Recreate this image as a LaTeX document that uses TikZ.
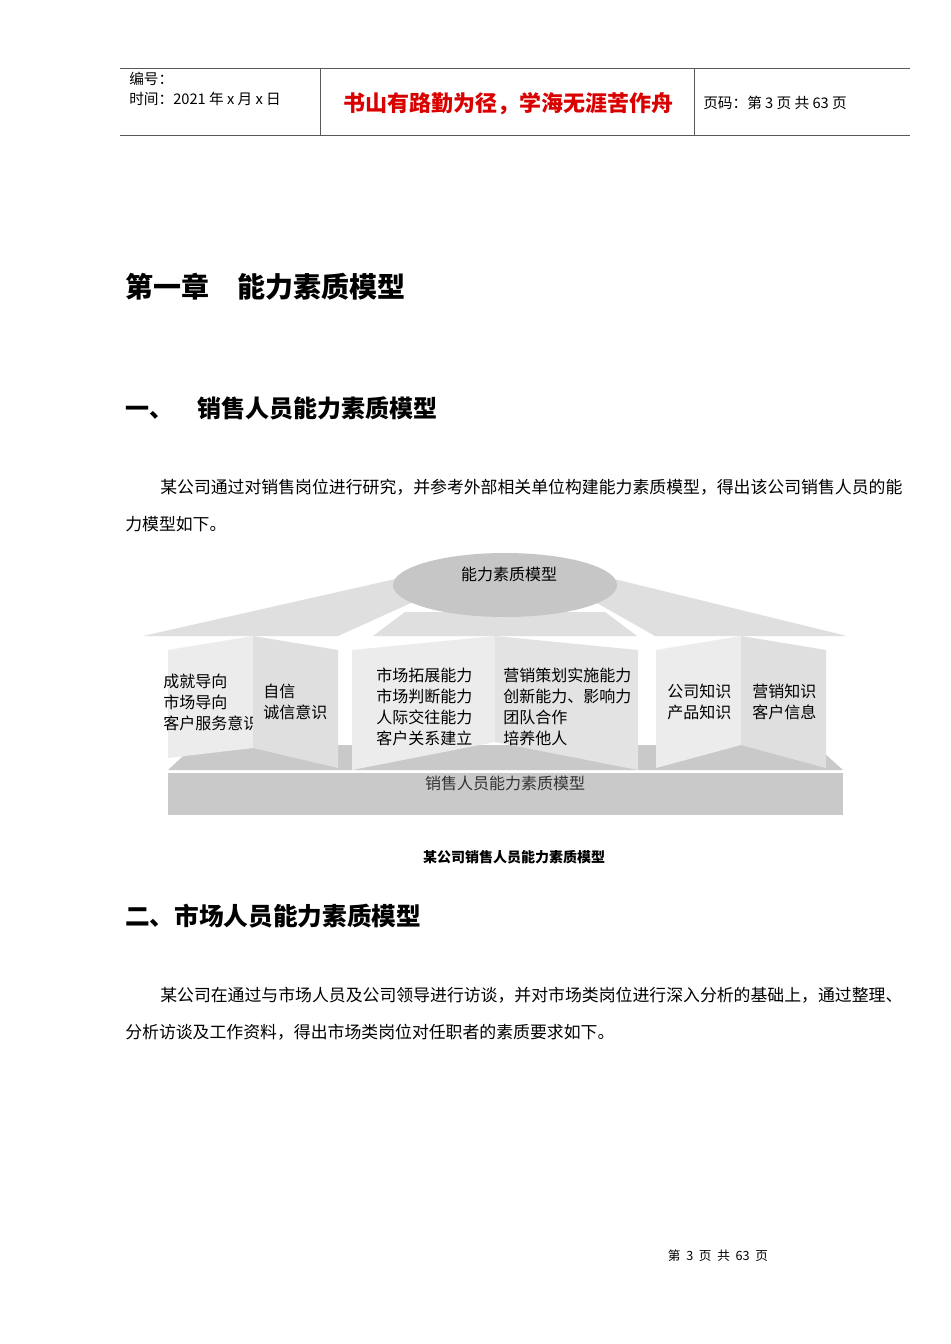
\documentclass[tikz,border=0pt]{standalone}
\usepackage{fontspec}
\usetikzlibrary{shapes.geometric}
\setmainfont{Noto Sans CJK SC}
\begin{document}
\begin{tikzpicture}[x=0.75pt,y=-0.75pt,
  lbl/.style={anchor=west,inner sep=0pt,font=\fontsize{12}{14}\selectfont},
  body/.style={anchor=west,inner sep=0pt,font=\fontsize{12.65}{14}\selectfont},
  hdr/.style={anchor=west,inner sep=0pt,font=\fontsize{11}{13}\selectfont}]
\useasboundingbox[fill=white] (0,0) rectangle (950,1344);
% header
\draw[gray!70!black,line width=0.6pt] (120,68) -- (910,68) (120,135) -- (910,135) (320,68) -- (320,135) (694,68) -- (694,135);
\node[hdr] (h1) at (129,79) {编号：};
\node[hdr] (h2) at (129,99) {时间：2021 年 x 月 x 日};
\node[inner sep=0pt,text=red!85!black,font=\fontsize{16.5}{18}\selectfont\bfseries] (h3) at (508,104) {书山有路勤为径，学海无涯苦作舟};
\node[hdr] (h4) at (703,103) {页码：第 3 页 共 63 页};
% headings
\node[anchor=west,inner sep=0pt,font=\fontsize{21}{24}\selectfont\bfseries] (t1) at (125,287) {第一章\quad 能力素质模型};
\node[anchor=west,inner sep=0pt,font=\fontsize{18}{20}\selectfont\bfseries] (t2) at (125,408) {一、\quad 销售人员能力素质模型};
\node[body] (p1) at (160,487) {某公司通过对销售岗位进行研究，并参考外部相关单位构建能力素质模型，得出该公司销售人员的能};
\node[body] (p2) at (125,524) {力模型如下。};
% diagram
\fill[gray!25] (143,636) -- (400,578) -- (422,598) -- (338,636) -- cycle;
\fill[gray!25] (847,636) -- (610,578) -- (588,598) -- (655,636) -- cycle;
\fill[gray!25] (373,636) -- (405,612) -- (605,612) -- (637,636) -- cycle;
\node[ellipse,fill=gray!45,minimum width=168pt,minimum height=48pt,inner sep=0pt] (el) at (505,585) {};
\node[inner sep=0pt,font=\fontsize{12}{14}\selectfont] (elt) at (509,574) {能力素质模型};
\fill[gray!42] (168,770) -- (195,745) -- (815,745) -- (843,770) -- cycle;
\fill[gray!42] (168,773) rectangle (843,815);
\node[inner sep=0pt,text=gray!40!black,font=\fontsize{12}{14}\selectfont] (bt) at (505,783) {销售人员能力素质模型};
% panels
\fill[gray!15] (168,650) -- (253,636) -- (253,748) -- (168,758) -- cycle;
\node[lbl] (a1) at (163,681) {成就导向};
\node[lbl] (a2) at (163,702) {市场导向};
\node[lbl] (a3) at (163,723) {客户服务意识};
\fill[gray!25] (253,636) -- (338,650) -- (338,768) -- (253,748) -- cycle;
\node[lbl] (b1) at (263,691) {自信};
\node[lbl] (b2) at (263,712) {诚信意识};
\fill[gray!15] (352,650) -- (495,636) -- (495,742) -- (352,770) -- cycle;
\fill[gray!22] (495,636) -- (638,650) -- (638,770) -- (495,742) -- cycle;
\node[lbl] (c1) at (376,675) {市场拓展能力};
\node[lbl] (c2) at (376,696) {市场判断能力};
\node[lbl] (c3) at (376,717) {人际交往能力};
\node[lbl] (c4) at (376,738) {客户关系建立};
\node[lbl] (d1) at (503,675) {营销策划实施能力};
\node[lbl] (d2) at (503,696) {创新能力、影响力};
\node[lbl] (d3) at (503,717) {团队合作};
\node[lbl] (d4) at (503,738) {培养他人};
\fill[gray!15] (656,650) -- (741,636) -- (741,745) -- (656,768) -- cycle;
\fill[gray!25] (741,636) -- (826,650) -- (826,768) -- (741,745) -- cycle;
\node[lbl] (e1) at (667,691) {公司知识};
\node[lbl] (e2) at (667,712) {产品知识};
\node[lbl] (f1) at (752,691) {营销知识};
\node[lbl] (f2) at (752,712) {客户信息};
\node[inner sep=0pt,font=\fontsize{10.5}{12}\selectfont\bfseries] (cap) at (514,857) {某公司销售人员能力素质模型};
\node[anchor=west,inner sep=0pt,font=\fontsize{18.5}{20}\selectfont\bfseries] (t3) at (125,916) {二、市场人员能力素质模型};
\node[body] (q1) at (160,995) {某公司在通过与市场人员及公司领导进行访谈，并对市场类岗位进行深入分析的基础上，通过整理、};
\node[body] (q2) at (125,1032) {分析访谈及工作资料，得出市场类岗位对任职者的素质要求如下。};
\node[inner sep=0pt,font=\fontsize{9.5}{11}\selectfont] (ft) at (718,1256) {第\ \ 3\ \ 页\ \ 共\ \ 63\ \ 页};
\end{tikzpicture}
\end{document}
